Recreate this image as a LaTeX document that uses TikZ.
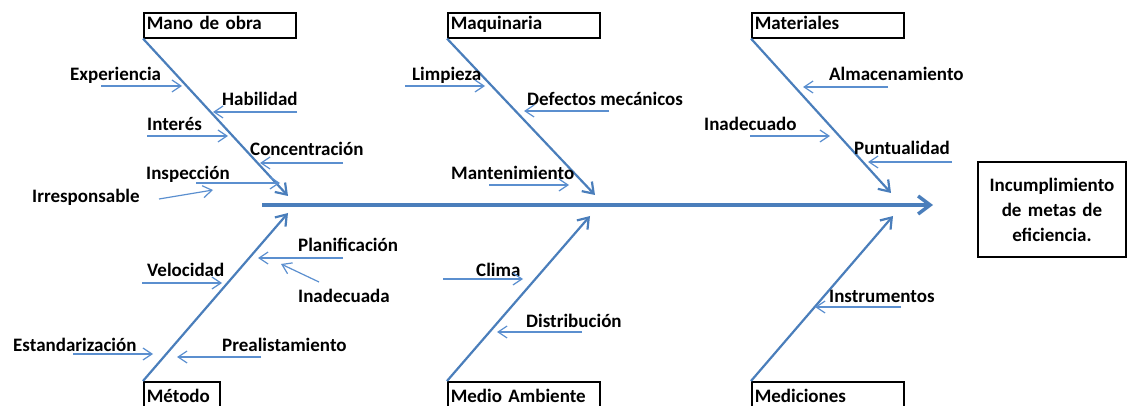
\documentclass[tikz,border=0pt]{standalone}
\usepackage{fontspec}
\setmainfont{Carlito}
\usepackage{tikz}
\usetikzlibrary{arrows.meta, positioning}
\definecolor{hueso}{HTML}{4A7EBB}
\definecolor{flecha}{HTML}{5B8FCF}

\begin{document}
\begin{tikzpicture}[x=1pt, y=-1pt, >={Straight Barb[length=9pt,width=12pt]},
  font=\fontsize{19}{25}\selectfont\bfseries,
  caja/.style={draw, line width=1.6pt, anchor=north west, inner xsep=3pt, inner ysep=4pt,
    text height=13pt, text depth=4pt, align=left},
  causa/.style={anchor=base west, inner sep=0pt},
  espina/.style={->, hueso, line width=2.2pt, >={Straight Barb[length=10pt,width=14pt]}},
  sub/.style={->, flecha, line width=1.2pt}]

\useasboundingbox (0,0) rectangle (1128,406);
\clip (0,0) rectangle (1128,406);

\node[caja, text width=146pt] (mano) at (143,12) {Mano de obra};
\node[caja, text width=146pt] (maqui) at (447,12) {Maquinaria};
\node[caja, text width=146pt] (mate) at (751,12) {Materiales};
\node[caja, text width=70pt, inner ysep=8pt] (metodo) at (143,381) {Método};
\node[caja, text width=146pt, inner ysep=8pt] (medio) at (447,381) {Medio Ambiente};
\node[caja, text width=146pt, inner ysep=8pt] (medic) at (751,381) {Mediciones};

\node[draw, line width=1.6pt, text width=136pt, inner xsep=6pt, align=center,
  minimum height=95pt] (efecto) at (1052,209.5) {Incumplimiento\\de metas de\\eficiencia.};

\coordinate (cola) at (262,205);
\coordinate (cabeza) at (933,205);
\draw[espina, line width=3.5pt, >={Straight Barb[length=12pt,width=18pt]}] (cola) -- (cabeza);

\coordinate (pmano) at (288,196);
\coordinate (pmaqui) at (595,195);
\coordinate (pmate) at (891,193);
\coordinate (pmetodo) at (288,213);
\coordinate (pmedio) at (590,216);
\coordinate (pmedic) at (893,216);
\draw[espina] (mano.south west) -- (pmano);
\draw[espina] (maqui.south west) -- (pmaqui);
\draw[espina] (mate.south west) -- (pmate);
\draw[espina] (metodo.north west) -- (pmetodo);
\draw[espina] (medio.north west) -- (pmedio);
\draw[espina] (medic.north west) -- (pmedic);

\foreach \n/\texto/\lx/\ly/\xa/\ya/\xb/\yb in {
  exp/Experiencia/70/81/101/86/182/86,
  hab/Habilidad/222/106/297/112/213/112,
  inte/Interés/147/131/147/136/228/136,
  conc/Concentración/250/156/343/163/260/163,
  insp/Inspección/146/180/196/183/280/183,
  irr/Irresponsable/32/203/159/199/213/190,
  limp/Limpieza/412/81/405/86/485/86,
  defe/Defectos mecánicos/527/106/609/111/524/111,
  mant/Mantenimiento/451/180/489/185/569/185,
  alma/Almacenamiento/829/81/888/87/803/87,
  inado/Inadecuado/704/131/750/136/830/136,
  punt/Puntualidad/854/155/952/162/868/162,
  plan/Planificación/298/252/343/258/258/258,
  inada/Inadecuada/298/302/319/282/281/264,
  velo/Velocidad/147/277/142/283/222/283,
  esta/Estandarización/13/352/73/354/153/354,
  prea/Prealistamiento/222/352/261/357/177/357,
  clim/Clima/476/277/443/279/523/279,
  dist/Distribución/526/327/582/332/497/332,
  inst/Instrumentos/829/302/901/307/815/307}
{
  \node[causa] (\n) at (\lx,\ly) {\texto};
  \coordinate (\n a) at (\xa,\ya);
  \coordinate (\n b) at (\xb,\yb);
  \draw[sub] (\n a) -- (\n b);
}

\end{tikzpicture}
\end{document}
